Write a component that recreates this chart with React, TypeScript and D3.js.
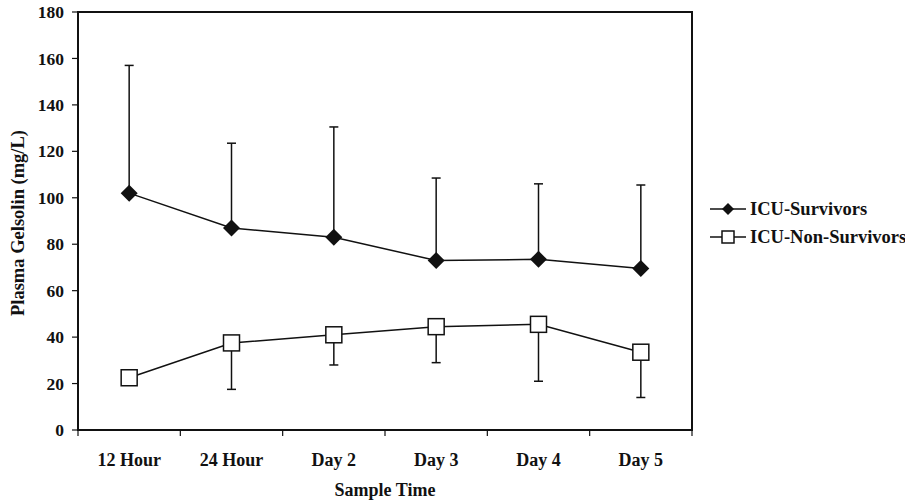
import React from "react";
import * as d3 from "d3";

const categories = ["12 Hour", "24 Hour", "Day 2", "Day 3", "Day 4", "Day 5"];
const survivors = [102, 87, 83, 73, 73.5, 69.5];
const survivorsUpper = [157, 123.5, 130.5, 108.5, 106, 105.5];
const nonSurvivors = [22.5, 37.5, 41, 44.5, 45.5, 33.5];
const nonSurvivorsLower = [22.5, 17.5, 28, 29, 21, 14];
const yTicks = [0, 20, 40, 60, 80, 100, 120, 140, 160, 180];

const W = 905, H = 503;
const left = 78, right = 692, top = 12, bottom = 430;
const font = "'Liberation Serif', 'Times New Roman', serif";

export default function App() {
  const x = d3.scaleBand<string>().domain(categories).range([left, right]).padding(0);
  const y = d3.scaleLinear().domain([0, 180]).range([bottom, top]);
  const cx = (i: number) => (x(categories[i]) as number) + x.bandwidth() / 2;
  const line = d3.line<number>().x((_, i) => cx(i)).y((d) => y(d));
  const boundaries = categories.map((c) => x(c) as number).concat([right]);
  const diamond = (px: number, py: number, r: number) =>
    `M${px},${py - r}L${px + r},${py}L${px},${py + r}L${px - r},${py}Z`;

  return (
    <svg width={W} height={H} style={{ position: "absolute", left: 0, top: 0, background: "#fff" }}
      fontFamily={font} fontWeight="bold">
      <rect x={0} y={0} width={W} height={H} fill="#fff" />
      <rect x={left} y={top} width={right - left} height={bottom - top} fill="none" stroke="#111" strokeWidth={2} />
      {yTicks.map((t) => (
        <g key={t}>
          <line x1={left - 6} x2={left} y1={y(t)} y2={y(t)} stroke="#111" strokeWidth={1.2} />
          <text x={left - 14} y={y(t)} dy="0.35em" textAnchor="end" fontSize={17.5} fill="#111">{t}</text>
        </g>
      ))}
      {boundaries.map((b, i) => (
        <line key={i} x1={b} x2={b} y1={bottom} y2={bottom + 6} stroke="#111" strokeWidth={1.2} />
      ))}
      {categories.map((c, i) => (
        <text key={c} x={cx(i)} y={466} textAnchor="middle" fontSize={18} fill="#111">{c}</text>
      ))}
      <text x={385} y={496} textAnchor="middle" fontSize={18} fill="#111">Sample Time</text>
      <text transform={`translate(24,${(top + bottom) / 2 + 2}) rotate(-90)`} textAnchor="middle" fontSize={18.5} fill="#111">
        Plasma Gelsolin (mg/L)
      </text>
      {survivors.map((v, i) => (
        <g key={"se" + i} stroke="#111" strokeWidth={1.5}>
          <line x1={cx(i)} x2={cx(i)} y1={y(v)} y2={y(survivorsUpper[i])} />
          <line x1={cx(i) - 4.5} x2={cx(i) + 4.5} y1={y(survivorsUpper[i])} y2={y(survivorsUpper[i])} />
        </g>
      ))}
      {nonSurvivors.map((v, i) => (
        <g key={"ne" + i} stroke="#111" strokeWidth={1.5}>
          <line x1={cx(i)} x2={cx(i)} y1={y(v)} y2={y(nonSurvivorsLower[i])} />
          <line x1={cx(i) - 4.5} x2={cx(i) + 4.5} y1={y(nonSurvivorsLower[i])} y2={y(nonSurvivorsLower[i])} />
        </g>
      ))}
      <path d={line(survivors) as string} fill="none" stroke="#111" strokeWidth={1.5} />
      <path d={line(nonSurvivors) as string} fill="none" stroke="#111" strokeWidth={1.5} />
      {survivors.map((v, i) => (
        <path key={"sm" + i} d={diamond(cx(i), y(v), 8.5)} fill="#111" />
      ))}
      {nonSurvivors.map((v, i) => (
        <rect key={"nm" + i} x={cx(i) - 8} y={y(v) - 8} width={16} height={16} fill="#fff" stroke="#111" strokeWidth={1.5} />
      ))}
      <g>
        <line x1={710} x2={746} y1={209} y2={209} stroke="#111" strokeWidth={1.5} />
        <path d={diamond(728, 209, 6)} fill="#111" />
        <text x={750} y={209} dy="0.35em" fontSize={18.5} fill="#111">ICU-Survivors</text>
        <line x1={710} x2={746} y1={237} y2={237} stroke="#111" strokeWidth={1.5} />
        <rect x={722} y={231} width={12} height={12} fill="#fff" stroke="#111" strokeWidth={1.5} />
        <text x={750} y={237} dy="0.35em" fontSize={18.5} fill="#111">ICU-Non-Survivors</text>
      </g>
    </svg>
  );
}
